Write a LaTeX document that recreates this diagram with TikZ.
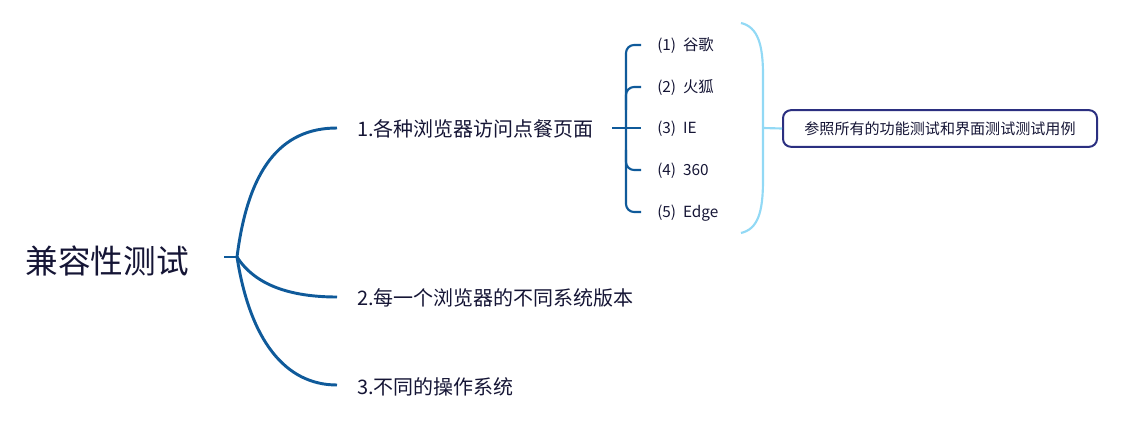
\documentclass[tikz,border=0pt]{standalone}
\usepackage{fontspec}
\setmainfont{Noto Sans CJK SC}
\definecolor{mainblue}{HTML}{0F5A9A}
\definecolor{lightblue}{HTML}{92D9F5}
\definecolor{navy}{HTML}{2B2F80}
\definecolor{txt}{HTML}{151535}
\begin{document}
\begin{tikzpicture}[x=0.75pt,y=-0.75pt,
  every node/.style={inner sep=0pt,text=txt},
  rootlbl/.style={font=\fontsize{24.5}{28}\selectfont},
  branchlbl/.style={anchor=west,font=\fontsize{15}{18}\selectfont},
  childlbl/.style={anchor=west,font=\fontsize{11.5}{14}\selectfont},
  notebox/.style={draw=navy,line width=1.5pt,rounded corners=6pt,minimum width=235.5pt,minimum height=27.5pt,font=\fontsize{11.3}{14}\selectfont},
  trunk/.style={draw=mainblue,line width=2.2pt},
  twig/.style={draw=mainblue,line width=1.6pt},
  brace/.style={draw=lightblue,line width=1.6pt}]
\useasboundingbox (0,0) rectangle (1134,431);
% root
\node[rootlbl] (root) at (107,261) {兼容性测试};
\coordinate (hub) at (237,257);
\coordinate (rootend) at (224,257);
% branches
\node[branchlbl] (b1) at (357,129) {1.各种浏览器访问点餐页面};
\node[branchlbl] (b2) at (357,298) {2.每一个浏览器的不同系统版本};
\node[branchlbl] (b3) at (357,387) {3.不同的操作系统};
\coordinate (e1) at (337,128);
\coordinate (e2) at (337,297);
\coordinate (e3) at (337,385);
\draw[trunk] (rootend) -- (hub);
\draw[trunk] (hub) .. controls (248,170) and (280,128) .. (e1);
\draw[trunk] (hub) .. controls (255,285) and (290,297) .. (e2);
\draw[trunk] (hub) .. controls (250,340) and (285,385) .. (e3);
% children
\node[childlbl] (c1) at (657,46) {(1)\ \ 谷歌};
\node[childlbl] (c2) at (657,88) {(2)\ \ 火狐};
\node[childlbl] (c3) at (657,129) {(3)\ \ IE};
\node[childlbl] (c4) at (657,171) {(4)\ \ 360};
\node[childlbl] (c5) at (657,213) {(5)\ \ Edge};
\coordinate (j) at (612,128);
\coordinate (k1) at (641,45);
\coordinate (k2) at (641,87);
\coordinate (k3) at (641,128);
\coordinate (k4) at (641,170);
\coordinate (k5) at (641,212);
\draw[twig] (j) -- (k3);
\draw[twig,rounded corners=6pt] (k1) -| (626,128) |- (k5);
\draw[twig,rounded corners=6pt] (626,110) |- (k2);
\draw[twig,rounded corners=6pt] (626,150) |- (k4);
% right brace
\coordinate (rb) at (763,128);
\node[notebox] (note) at (940,128.5) {参照所有的功能测试和界面测试测试用例};
\draw[brace] (741,23) .. controls (758,27) and (763,45) .. (763,75) -- (763,180) .. controls (763,212) and (758,229) .. (741,233);
\draw[brace] (rb) -- (note.west);
\end{tikzpicture}
\end{document}
